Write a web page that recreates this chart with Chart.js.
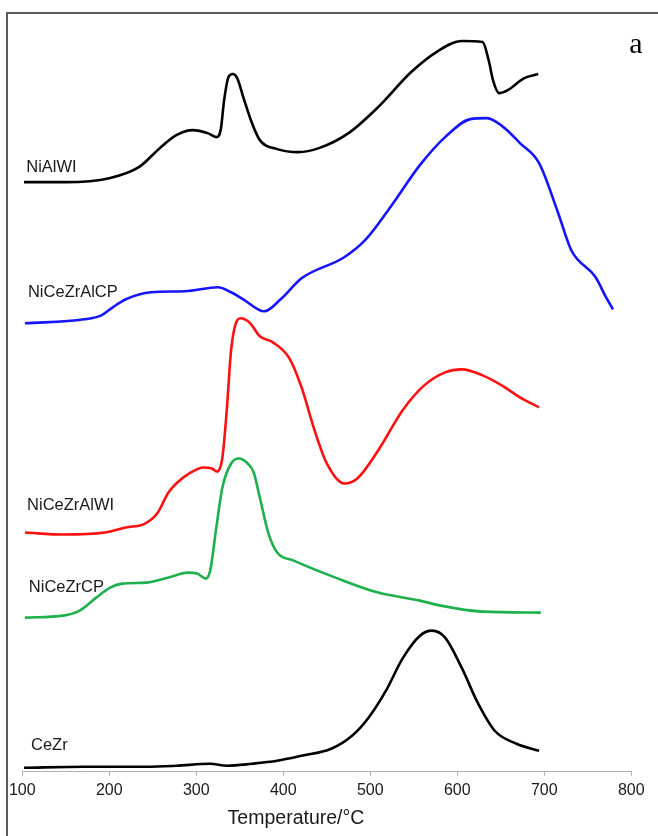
<!DOCTYPE html>
<html>
<head>
<meta charset="utf-8">
<script src="https://cdn.jsdelivr.net/npm/chart.js@4/dist/chart.umd.min.js"></script>
<style>
  html, body { margin: 0; padding: 0; background: #fff; }
  #wrap { position: relative; width: 658px; height: 836px; overflow: hidden; }
  #frame {
    position: absolute; left: 6px; top: 12px; width: 700px; height: 900px;
    border-left: 2px solid #5a5a5a; border-top: 2px solid #5a5a5a;
  }
  #tpr { position: absolute; left: 0; top: 0; }
</style>
</head>
<body>
<div id="wrap">
  <div id="frame"></div>
  <canvas id="tpr" width="658" height="836"></canvas>
</div>
<script>
// H2-TPR profiles, temperature in °C, signal in arbitrary units (curves offset)
const tNiAlWI = [102, 150, 200, 234, 258, 277, 296, 313, 323, 328, 332, 337, 342, 347, 354, 364, 373, 393, 417, 441, 475, 509, 547, 576, 605, 629, 636, 641, 648, 658, 677, 693];
const sNiAlWI = [58.9, 58.9, 59.3, 60.4, 62.3, 63.6, 64.1, 63.8, 63.4, 64.1, 67.1, 69.4, 69.7, 69.3, 67.4, 64.8, 63.1, 62.2, 61.9, 62.3, 63.8, 66.4, 69.9, 71.9, 73.0, 72.9, 71.1, 69.1, 67.8, 68.1, 69.3, 69.7];

const tNiCeZrAlCP = [103, 171, 191, 204, 219, 248, 287, 325, 340, 354, 378, 397, 421, 470, 494, 523, 557, 586, 615, 634, 653, 672, 694, 716, 731, 759, 771, 779];
const sNiCeZrAlCP = [44.8, 45.2, 45.6, 46.4, 47.2, 47.9, 48.0, 48.4, 47.9, 47.2, 46.0, 47.2, 49.3, 51.4, 53.1, 56.4, 60.6, 63.4, 65.2, 65.3, 64.4, 62.8, 60.8, 55.8, 52.1, 49.4, 47.4, 46.2];

const tNiCeZrAlWI = [103, 147, 195, 219, 241, 255, 268, 277, 292, 308, 318, 324, 330, 335, 340, 347, 351, 362, 373, 388, 407, 421, 436, 450, 470, 485, 509, 537, 562, 586, 605, 629, 653, 672, 694];
const sNiCeZrAlWI = [23.9, 23.7, 23.9, 24.4, 24.8, 25.8, 27.9, 28.8, 29.8, 30.4, 30.3, 30.0, 31.4, 36.1, 42.1, 45.1, 45.3, 44.8, 43.5, 42.9, 41.3, 38.4, 34.1, 30.8, 28.8, 29.3, 32.1, 36.1, 38.6, 39.9, 40.2, 39.6, 38.5, 37.4, 36.4];

const tNiCeZrCP = [103, 147, 166, 185, 201, 215, 243, 268, 290, 301, 311, 316, 323, 330, 340, 349, 359, 366, 373, 383, 393, 412, 460, 509, 557, 581, 629, 696];
const sNiCeZrCP = [15.4, 15.6, 16.1, 17.4, 18.4, 18.8, 18.9, 19.4, 19.9, 19.8, 19.3, 20.1, 24.4, 28.4, 30.8, 31.3, 30.8, 29.9, 27.4, 23.8, 21.9, 21.1, 19.4, 17.9, 17.1, 16.6, 16.0, 15.9];

const tCeZr = [102, 171, 243, 277, 316, 335, 364, 393, 421, 455, 479, 498, 518, 537, 557, 571, 586, 605, 624, 643, 668, 694];
const sCeZr = [0.4, 0.5, 0.5, 0.6, 0.8, 0.6, 0.8, 1.1, 1.6, 2.3, 3.6, 5.4, 8.1, 11.3, 13.6, 14.1, 13.4, 10.4, 6.8, 4.1, 2.8, 2.1];

const xTicks = [100, 200, 300, 400, 500, 600, 700, 800];

// sample name, placed at a (temperature, signal) spot left of each curve
const curveLabels = [
  { text: 'NiAlWI', t: 104.5, s: 60.4 },
  { text: 'NiCeZrAlCP', t: 106.5, s: 47.9 },
  { text: 'NiCeZrAlWI', t: 105.5, s: 26.6 },
  { text: 'NiCeZrCP', t: 107.5, s: 18.4 },
  { text: 'CeZr', t: 110, s: 2.6 }
];

function pts(ts, ss) {
  return ts.map((t, i) => ({ x: t, y: ss[i] }));
}

function series(label, ts, ss, color) {
  return {
    label: label,
    data: pts(ts, ss),
    borderColor: color,
    borderWidth: 2.6,
    pointRadius: 0,
    cubicInterpolationMode: 'monotone',
    fill: false
  };
}

const labelsPlugin = {
  id: 'curveLabels',
  afterDraw(chart) {
    const ctx = chart.ctx;
    const xs = chart.scales.x;
    const ys = chart.scales.y;
    ctx.save();
    ctx.fillStyle = '#1a1a1a';
    ctx.font = '16.5px "Liberation Sans", Arial, sans-serif';
    ctx.textAlign = 'left';
    ctx.textBaseline = 'middle';
    curveLabels.forEach(l => {
      ctx.fillText(l.text, xs.getPixelForValue(l.t), ys.getPixelForValue(l.s));
    });

    // axis title, sitting a little left of the axis centre
    ctx.font = '19.5px "Liberation Sans", Arial, sans-serif';
    ctx.textAlign = 'center';
    ctx.fillText('Temperature/°C', 296, 819);

    // panel letter
    ctx.font = '30px "Liberation Serif", "Times New Roman", serif';
    ctx.fillStyle = '#000';
    ctx.textBaseline = 'alphabetic';
    ctx.fillText('a', 636, 53);
    ctx.restore();
  }
};

new Chart(document.querySelector('#tpr'), {
  type: 'line',
  data: {
    datasets: [
      series('NiAlWI', tNiAlWI, sNiAlWI, '#000000'),
      series('NiCeZrAlCP', tNiCeZrAlCP, sNiCeZrAlCP, '#1414ff'),
      series('NiCeZrAlWI', tNiCeZrAlWI, sNiCeZrAlWI, '#ff1010'),
      series('NiCeZrCP', tNiCeZrCP, sNiCeZrCP, '#1db04c'),
      series('CeZr', tCeZr, sCeZr, '#000000')
    ]
  },
  options: {
    responsive: false,
    animation: false,
    layout: { padding: { left: 22.3, right: 26.7, top: 21, bottom: 31 } },
    plugins: {
      legend: { display: false },
      title: { display: false },
      tooltip: { enabled: false }
    },
    scales: {
      x: {
        type: 'linear',
        min: 100,
        max: 800,
        afterBuildTicks: axis => { axis.ticks = xTicks.map(v => ({ value: v })); },
        grid: { display: true, drawOnChartArea: false, drawTicks: true, tickLength: 4, tickColor: '#b0b0b0' },
        border: { display: true, color: '#b0b0b0', width: 1 },
        ticks: {
          color: '#1a1a1a',
          padding: 5,
          maxRotation: 0,
          font: { family: '"Liberation Sans", Arial, sans-serif', size: 16 }
        }
      },
      y: {
        display: false,
        min: 0,
        max: 75
      }
    }
  },
  plugins: [labelsPlugin]
});
</script>
</body>
</html>
